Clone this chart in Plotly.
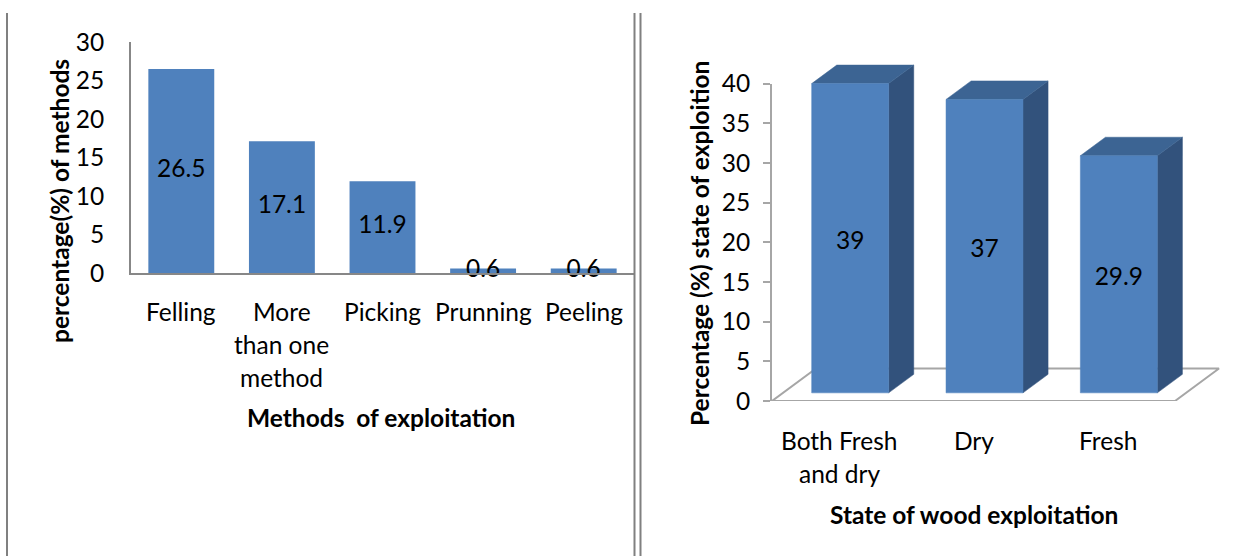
import plotly.graph_objects as go

# ---------------- data ----------------
methods = ["Felling", "More<br>than one<br>method", "Picking", "Prunning", "Peeling"]
method_values = [26.5, 17.1, 11.9, 0.6, 0.6]
left_yticks = [0, 5, 10, 15, 20, 25, 30]

states = ["Both Fresh<br>and dry", "Dry", "Fresh"]
state_values = [39, 37, 29.9]
right_yticks = [0, 5, 10, 15, 20, 25, 30, 35, 40]

# ---------------- style ----------------
W, H = 1244, 556
FONT = "Lato"
BLUE = "#4F81BD"
SIDE = "#32527C"
TOP = "#3C6493"
GRAY = "#878787"
FS = 24.5


def px_x(p):
    return p / W


def px_y(p):
    return 1 - p / H


fig = go.Figure()

# ---------- left chart ----------
cat_idx = list(range(len(methods)))
fig.add_trace(go.Bar(x=cat_idx, y=method_values, marker=dict(color=BLUE, line=dict(width=0)),
                     width=0.655, xaxis="x", yaxis="y", showlegend=False, hoverinfo="skip"))
fig.add_trace(go.Scatter(x=cat_idx, y=[v / 2 for v in method_values],
                         text=[str(v) for v in method_values], mode="text",
                         textfont=dict(family=FONT, size=FS, color="black"),
                         xaxis="x", yaxis="y", showlegend=False, cliponaxis=False, hoverinfo="skip"))

# ---------- right chart (pseudo 3D) ----------
DX, DY = 0.3276, 4.1      # full floor depth (x units, value units)
F0, BD = 0.25, 0.57       # bar front depth fraction, bar depth fraction
BW = 0.573                # bar width

xs = list(range(len(states)))
# floor (drawn on the visible value axis y2, same scale as y3)
fig.add_trace(go.Scatter(x=[-0.5, 2.5, 2.5 + DX, -0.5 + DX, -0.5],
                         y=[0, 0, DY, DY, 0], mode="lines",
                         line=dict(color="#A6A6A6", width=2),
                         xaxis="x2", yaxis="y2", showlegend=False, hoverinfo="skip"))
for c, v in zip(xs, state_values):
    x0 = c - BW / 2 + F0 * DX
    x1 = c + BW / 2 + F0 * DX
    yb = F0 * DY
    yt = yb + v
    ddx, ddy = BD * DX, BD * DY
    # side face
    fig.add_trace(go.Scatter(x=[x1, x1 + ddx, x1 + ddx, x1, x1],
                             y=[yb, yb + ddy, yt + ddy, yt, yb], fill="toself",
                             fillcolor=SIDE, mode="lines", line=dict(color=SIDE, width=0.5),
                             xaxis="x2", yaxis="y3", showlegend=False, hoverinfo="skip"))
    # top face
    fig.add_trace(go.Scatter(x=[x0, x1, x1 + ddx, x0 + ddx, x0],
                             y=[yt, yt, yt + ddy, yt + ddy, yt], fill="toself",
                             fillcolor=TOP, mode="lines", line=dict(color=TOP, width=0.5),
                             xaxis="x2", yaxis="y3", showlegend=False, hoverinfo="skip"))
    # front face
    fig.add_trace(go.Scatter(x=[x0, x1, x1, x0, x0],
                             y=[yb, yb, yt, yt, yb], fill="toself",
                             fillcolor=BLUE, mode="lines", line=dict(color=BLUE, width=0.5),
                             xaxis="x2", yaxis="y3", showlegend=False, hoverinfo="skip"))
    # label
    fig.add_trace(go.Scatter(x=[c + F0 * DX], y=[yb + v / 2 - 0.6], text=[str(v)], mode="text",
                             textfont=dict(family=FONT, size=FS, color="black"),
                             xaxis="x2", yaxis="y3", showlegend=False, cliponaxis=False,
                             hoverinfo="skip"))

# ---------- axes ----------
L_X0, L_X1, L_Y0, L_Y1 = 131, 634, 273, 42
R_X0, R_X1 = 772, 1230
R_Y0 = 401
PXU = 7.93
R_PX_CAT = (1175 - 772) / 3
R_TOP40 = R_Y0 - 40 * PXU
R_TOPMAX = 40

fig.update_layout(
    width=W, height=H, margin=dict(l=0, r=0, t=0, b=0, pad=0, autoexpand=False),
    paper_bgcolor="white", plot_bgcolor="rgba(0,0,0,0)",
    font=dict(family=FONT, size=FS, color="black"),
    xaxis=dict(domain=[px_x(L_X0), px_x(L_X1)], range=[-0.5, 4.5], showticklabels=False,
               showgrid=False, zeroline=False, showline=True, linecolor=GRAY, linewidth=2,
               ticks="", fixedrange=True, anchor="y", automargin=False),
    yaxis=dict(domain=[px_y(L_Y0), px_y(L_Y1)], range=[0, 30], tickvals=left_yticks,
               showgrid=False, zeroline=False, showline=True, linecolor=GRAY, linewidth=2,
               ticks="outside", ticklen=20, tickcolor="rgba(0,0,0,0)", automargin=False,
               tickfont=dict(family=FONT, size=FS, color="black"), anchor="x"),
    xaxis2=dict(domain=[px_x(R_X0), px_x(R_X1)], automargin=False,
                range=[-0.5, -0.5 + (R_X1 - R_X0) / R_PX_CAT], showticklabels=False,
                showgrid=False, zeroline=False, showline=False, ticks="", anchor="y2"),
    yaxis2=dict(domain=[px_y(R_Y0), px_y(R_TOP40)], range=[0, 40], tickvals=right_yticks,
                showgrid=False, zeroline=False, showline=True, linecolor="#A6A6A6", linewidth=2,
                ticks="outside", ticklen=7, tickcolor="#A6A6A6", tickwidth=2, automargin=False,
                ticklabelstandoff=8,
                tickfont=dict(family=FONT, size=FS, color="black"), anchor="x2"),
    yaxis3=dict(domain=[px_y(R_Y0), px_y(R_TOPMAX)], range=[0, (R_Y0 - R_TOPMAX) / PXU],
                visible=False, anchor="x2", automargin=False),
)

anns = []
# category labels
for i, lab in enumerate(methods):
    for j, line in enumerate(lab.split("<br>")):
        anns.append(dict(x=i, y=px_y(311 + 33 * j), xref="x", yref="paper", text=line,
                         showarrow=False, xanchor="center", yanchor="middle",
                         font=dict(family=FONT, size=FS, color="black")))
for i, lab in enumerate(states):
    for j, line in enumerate(lab.split("<br>")):
        anns.append(dict(x=i, y=px_y(440 + 33 * j), xref="x2", yref="paper", text=line,
                         showarrow=False, xanchor="center", yanchor="middle",
                         font=dict(family=FONT, size=FS, color="black")))
# axis titles
titles = [
    (381, 417, "<b>Methods  of exploitation</b>", 0),
    (974, 514, "<b>State of wood exploitation</b>", 0),
    (60, 201, "<b>percentage(%) of methods</b>", -90),
    (700, 244, "<b>Percentage (%) state of exploition</b>", -90),
]
for xp, yp, txt, ang in titles:
    anns.append(dict(x=px_x(xp), y=px_y(yp), xref="paper", yref="paper", text=txt,
                     showarrow=False, textangle=ang, xanchor="center", yanchor="middle",
                     font=dict(family=FONT, size=FS, color="black")))
fig.update_layout(annotations=anns)

# panel frame lines
shapes = []
for xp in (7, 634.5, 640.5):
    shapes.append(dict(type="line", xref="paper", yref="paper", x0=px_x(xp), x1=px_x(xp),
                       y0=px_y(13), y1=0, line=dict(color="#808080", width=2)))
fig.update_layout(shapes=shapes)

fig.write_html("out.html")
